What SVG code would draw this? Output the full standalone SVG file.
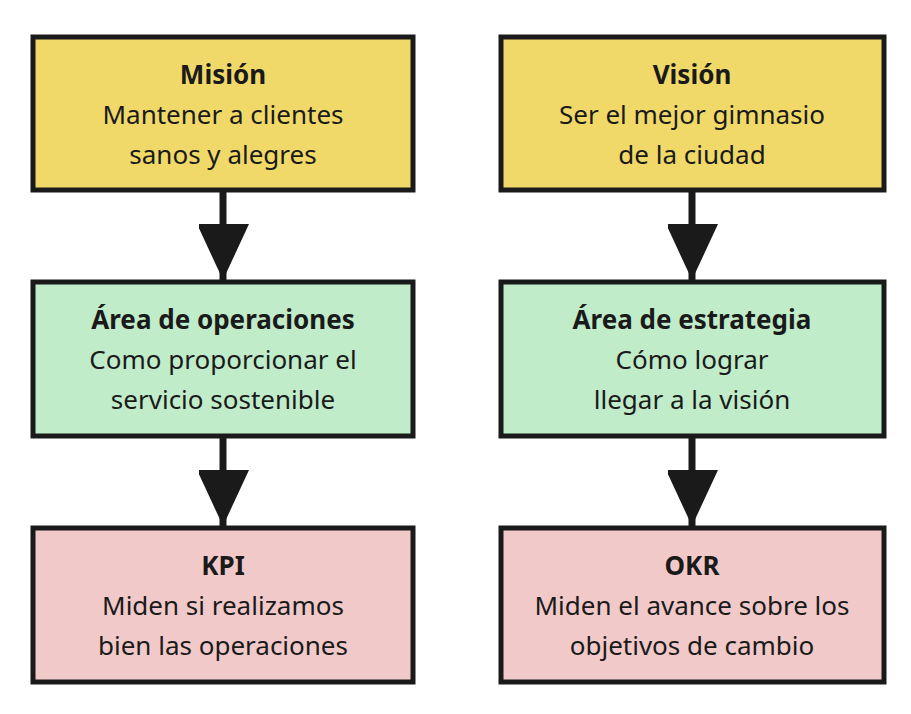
<svg xmlns="http://www.w3.org/2000/svg" width="911" height="714" viewBox="0 0 911 714">
<style>
.b{stroke:#1a1a1a;stroke-width:5}
.y{fill:#f0d968}.g{fill:#c0ecca}.p{fill:#f1c9c9}
text{font-family:"Noto Sans","Open Sans",sans-serif;font-size:26px;fill:#1a1a1a;text-anchor:middle}
.t{font-weight:bold}
.c{stroke:#1a1a1a;stroke-width:7;fill:none}
</style>
<defs><marker id="a" markerUnits="userSpaceOnUse" markerWidth="60" markerHeight="50" refX="56" refY="26" orient="auto"><path d="M0,0 L56,26 L0,52 Z" fill="#1a1a1a"/></marker></defs>
<rect width="911" height="714" fill="#fff"/>
<g id="connectors">
<path class="c" d="M223,190 V280" marker-end="url(#a)"/>
<path class="c" d="M223,436 V526" marker-end="url(#a)"/>
<path class="c" d="M692,190 V280" marker-end="url(#a)"/>
<path class="c" d="M692,436 V526" marker-end="url(#a)"/>
</g>
<g id="mision"><rect class="b y" x="33" y="37" width="380" height="153"/><text class="t" x="223" y="84">Misión</text><text x="223" y="124">Mantener a clientes</text><text x="223" y="164">sanos y alegres</text></g>
<g id="vision"><rect class="b y" x="501" y="37" width="383" height="153"/><text class="t" x="692" y="84">Visión</text><text x="692" y="124">Ser el mejor gimnasio</text><text x="692" y="164">de la ciudad</text></g>
<g id="operaciones"><rect class="b g" x="33" y="282" width="380" height="154"/><text class="t" x="223" y="329">Área de operaciones</text><text x="223" y="369">Como proporcionar el</text><text x="223" y="409">servicio sostenible</text></g>
<g id="estrategia"><rect class="b g" x="501" y="282" width="383" height="154"/><text class="t" x="692" y="329">Área de estrategia</text><text x="692" y="369">Cómo lograr</text><text x="692" y="409">llegar a la visión</text></g>
<g id="kpi"><rect class="b p" x="33" y="528" width="380" height="154"/><text class="t" x="223" y="575">KPI</text><text x="223" y="615">Miden si realizamos</text><text x="223" y="655">bien las operaciones</text></g>
<g id="okr"><rect class="b p" x="501" y="528" width="383" height="154"/><text class="t" x="692" y="575">OKR</text><text x="692" y="615">Miden el avance sobre los</text><text x="692" y="655">objetivos de cambio</text></g>
</svg>
